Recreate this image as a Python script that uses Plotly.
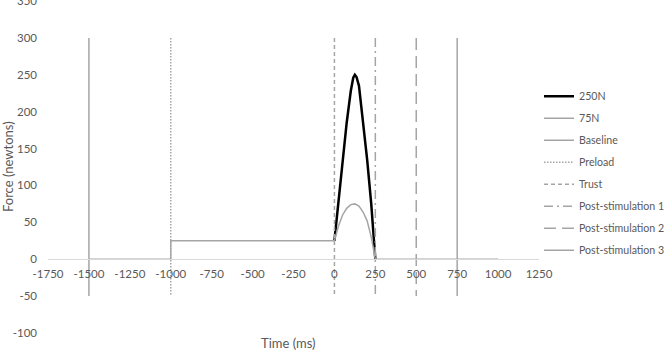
import plotly.graph_objects as go

# ---- data ----
time_250 = [0, 25, 50, 75, 100, 115, 125, 135, 150, 175, 200, 225, 250]
force_250 = [25, 80, 135, 185, 228, 246, 250, 247, 235, 185, 135, 75, 0]

time_75 = [-1500, -1000, -1000, 0, 25, 50, 75, 100, 125, 150, 175, 200, 225, 250, 1000]
force_75 = [0, 0, 25, 25, 45, 60, 69, 74, 75, 72, 64, 52, 30, 0, 0]

marker_names = ["Baseline", "Preload", "Trust", "Post-stimulation 1", "Post-stimulation 2", "Post-stimulation 3"]
marker_times = [-1500, -1000, 0, 250, 500, 750]
marker_span = [300, -50]

x_ticks = [-1750, -1500, -1250, -1000, -750, -500, -250, 0, 250, 500, 750, 1000, 1250]
y_ticks = [-100, -50, 0, 50, 100, 150, 200, 250, 300, 350]

# ---- styles ----
FONT = "Lato"
TXT = "#595959"
GREY = "#A5A5A5"
dashes = ["solid", "1.5px,1.5px", "4px,3px", "9px,4px,2px,4px", "12px,6px", "solid"]

fig = go.Figure()
fig.add_trace(go.Scatter(x=time_250, y=force_250, mode="lines", name="250N",
                         line=dict(color="#000000", width=2.5), legendgroup="a"))
fig.add_trace(go.Scatter(x=time_75, y=force_75, mode="lines", name="75N",
                         line=dict(color=GREY, width=1.5), legendgroup="b"))
for i, (nm, t) in enumerate(zip(marker_names, marker_times)):
    fig.add_trace(go.Scatter(x=[t, t], y=marker_span, mode="lines", name=nm,
                             line=dict(color=GREY, width=1.5, dash=dashes[i]),
                             legendgroup="g%d" % i))

fig.update_layout(
    width=670, height=350,
    margin=dict(l=48, r=131, t=1, b=17, autoexpand=False),
    paper_bgcolor="white", plot_bgcolor="white",
    font=dict(family=FONT, size=11.5, color=TXT),
    showlegend=True,
    legend=dict(x=1.0, xanchor="left", y=0.757, yanchor="top",
                itemwidth=30, tracegroupgap=3,
                font=dict(family=FONT, size=10.6, color=TXT),
                bgcolor="rgba(0,0,0,0)"),
    xaxis=dict(range=[-1750, 1250], tickvals=x_ticks, ticktext=[str(v) for v in x_ticks],
               showgrid=False, zeroline=False, showline=True, linecolor="#D9D9D9", linewidth=1,
               anchor="free", position=100 / 450, ticks="", ticklabelstandoff=4,
               automargin=False,
               tickfont=dict(family=FONT, size=11.5, color=TXT)),
    yaxis=dict(range=[-100, 350], tickvals=y_ticks, ticktext=[str(v) for v in y_ticks],
               showgrid=False, zeroline=False, showline=False, ticks="",
               ticklabelstandoff=10, ticklabeloverflow="allow", automargin=False,
               tickfont=dict(family=FONT, size=11.5, color=TXT)),
    annotations=[
        dict(text="Time (ms)", x=0.49, y=0, xref="paper", yref="paper",
             xanchor="center", yanchor="middle", yshift=-10, showarrow=False,
             font=dict(family=FONT, size=13, color=TXT)),
        dict(text="Force (newtons)", x=0, y=0.5, xref="paper", yref="paper",
             xanchor="center", yanchor="middle", xshift=-40, textangle=-90, showarrow=False,
             font=dict(family=FONT, size=13, color=TXT)),
    ],
)

fig.write_html("out.html")
